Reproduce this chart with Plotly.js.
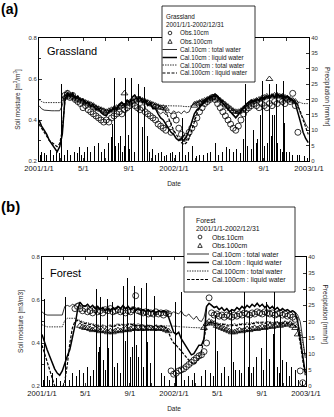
<!DOCTYPE html>
<html>
<head>
<meta charset="utf-8">
<script src="https://cdn.plot.ly/plotly-3.0.1.min.js"></script>
<style>
  html, body { margin: 0; padding: 0; background: #fff; }
  #chart { width: 334px; height: 417px; }
</style>
</head>
<body>
<div id="chart"></div>
<script>
// ---------- time axis: weekly model/obs samples, day offsets from 2001-01-01 ----------
const START = Date.UTC(2001, 0, 1);
const WEEK_DAYS = Array.from({ length: 105 }, (_, i) => i * 7);

const TICK_DATES  = ['2001-01-01','2001-05-01','2001-09-01','2002-01-01','2002-05-01','2002-09-01','2003-01-01'];
const TICK_TEXT   = ['2001/1/1','5/1','9/1','2002/1/1','5/1','9/1','2003/1/1'];
const MINOR_DATES = ['2001-03-01','2001-07-01','2001-11-01','2002-03-01','2002-07-01','2002-11-01'];
const SM_TICKS    = [0.2, 0.4, 0.6, 0.8];
const SM_LABELS   = ['0.2', '0.4', '0.6', '0.8'];

// ---------- (a) Grassland ----------
const gCal10Total = [
  0.47,0.455,0.448,0.446,0.445,0.445,0.445,0.445,0.445,0.47,
  0.53,0.545,0.52,0.535,0.51,0.52,0.50,0.505,0.485,0.49,
  0.47,0.475,0.455,0.46,0.44,0.43,0.425,0.445,0.45,0.465,
  0.455,0.48,0.49,0.475,0.50,0.49,0.515,0.525,0.505,0.515,
  0.49,0.50,0.475,0.485,0.46,0.465,0.44,0.43,0.44,0.425,
  0.44,0.43,0.445,0.435,0.44,0.43,0.445,0.435,0.44,0.47,
  0.49,0.485,0.495,0.49,0.50,0.505,0.515,0.52,0.53,0.52,
  0.50,0.485,0.47,0.455,0.44,0.425,0.415,0.43,0.45,0.465,
  0.48,0.49,0.50,0.495,0.505,0.50,0.515,0.505,0.52,0.51,
  0.525,0.515,0.53,0.52,0.525,0.515,0.52,0.505,0.50,0.49,
  0.47,0.43,0.41,0.38,0.36];
const gCal10Liquid = [
  0.40,0.37,0.35,0.33,0.30,0.28,0.26,0.245,0.27,0.33,
  0.50,0.53,0.515,0.53,0.505,0.515,0.495,0.50,0.48,0.485,
  0.465,0.47,0.45,0.455,0.435,0.425,0.42,0.44,0.445,0.46,
  0.45,0.475,0.485,0.47,0.495,0.485,0.51,0.52,0.50,0.51,
  0.485,0.495,0.47,0.48,0.455,0.455,0.43,0.41,0.40,0.38,
  0.36,0.34,0.33,0.31,0.30,0.31,0.30,0.32,0.35,0.39,
  0.43,0.45,0.46,0.475,0.49,0.50,0.51,0.515,0.525,0.515,
  0.495,0.48,0.465,0.45,0.435,0.42,0.41,0.425,0.445,0.46,
  0.475,0.485,0.495,0.49,0.50,0.495,0.51,0.50,0.515,0.505,
  0.52,0.51,0.525,0.515,0.52,0.51,0.515,0.50,0.495,0.48,
  0.44,0.39,0.34,0.31,0.29];
const gCal100Total = [
  0.50,0.49,0.485,0.485,0.485,0.485,0.485,0.485,0.485,0.49,
  0.52,0.53,0.525,0.52,0.515,0.51,0.505,0.50,0.495,0.49,
  0.485,0.48,0.47,0.465,0.46,0.455,0.45,0.45,0.455,0.46,
  0.465,0.47,0.475,0.48,0.49,0.495,0.50,0.505,0.51,0.51,
  0.505,0.50,0.495,0.49,0.485,0.48,0.475,0.47,0.47,0.47,
  0.47,0.47,0.47,0.47,0.468,0.468,0.466,0.466,0.465,0.47,
  0.48,0.485,0.49,0.495,0.50,0.505,0.51,0.515,0.52,0.515,
  0.505,0.495,0.485,0.47,0.46,0.45,0.445,0.445,0.45,0.46,
  0.47,0.48,0.49,0.495,0.50,0.505,0.51,0.515,0.52,0.52,
  0.525,0.525,0.525,0.52,0.52,0.515,0.51,0.505,0.50,0.495,
  0.49,0.485,0.48,0.48,0.48];
const gCal100Liquid = [
  0.38,0.36,0.34,0.32,0.30,0.29,0.28,0.27,0.285,0.35,
  0.49,0.52,0.52,0.515,0.51,0.505,0.50,0.495,0.49,0.485,
  0.48,0.475,0.465,0.46,0.455,0.45,0.445,0.445,0.45,0.455,
  0.46,0.465,0.47,0.475,0.485,0.49,0.495,0.50,0.505,0.505,
  0.50,0.495,0.49,0.485,0.48,0.475,0.47,0.465,0.46,0.44,
  0.41,0.38,0.35,0.33,0.31,0.29,0.28,0.29,0.31,0.35,
  0.40,0.44,0.47,0.48,0.495,0.50,0.505,0.51,0.515,0.51,
  0.50,0.49,0.48,0.465,0.455,0.445,0.44,0.44,0.445,0.455,
  0.465,0.475,0.485,0.49,0.495,0.50,0.505,0.51,0.515,0.515,
  0.52,0.52,0.52,0.515,0.515,0.51,0.505,0.50,0.495,0.49,
  0.47,0.44,0.40,0.36,0.33];
const gObs10 = [
  null,null,null,null,null,null,null,null,null,null,
  0.52,0.53,0.51,0.52,0.50,0.49,0.48,0.46,0.47,0.45,
  0.44,0.43,0.42,0.41,0.40,0.39,0.40,0.39,0.41,0.42,
  0.43,0.44,0.43,0.45,0.46,0.47,0.48,0.47,0.46,0.45,
  0.46,0.44,0.43,0.42,0.41,0.40,0.38,0.37,0.36,0.35,
  0.38,0.34,0.42,0.40,0.36,0.33,0.31,0.32,0.34,0.36,
  0.38,0.41,0.44,0.46,0.48,0.49,0.50,0.51,0.50,0.48,
  0.46,0.44,0.42,0.40,0.38,0.36,0.35,0.37,0.40,0.43,
  0.45,0.46,0.47,0.48,0.47,0.46,0.48,0.47,0.46,0.48,
  0.47,0.49,0.48,0.50,0.49,0.48,0.50,0.49,0.53,0.47,
  0.34,null,null,null,null];
const gObs100 = [
  null,null,null,null,null,null,null,null,null,null,
  0.51,0.52,0.52,0.51,0.505,0.50,0.495,0.49,0.485,0.48,
  0.475,0.47,0.46,0.455,0.45,0.445,0.44,0.445,0.45,0.455,
  0.46,0.465,0.47,0.53,0.48,0.485,0.49,0.495,0.50,0.50,
  0.495,0.49,0.485,0.48,0.475,0.47,0.465,0.46,0.46,0.455,
  null,null,null,null,null,null,null,null,null,null,
  0.47,0.48,0.485,0.49,0.495,0.50,0.505,0.51,0.51,0.505,
  0.495,0.485,0.475,0.465,0.455,0.445,0.44,0.44,0.445,0.455,
  0.465,0.475,0.485,0.49,0.495,0.50,0.505,0.51,0.515,0.60,
  0.515,0.52,0.52,0.515,0.515,0.51,0.505,0.50,0.495,0.49,
  null,null,null,null,null];
const gRainDays = [3,8,14,20,30,40,48,55,62,70,78,86,95,104,110,115,122,130,140,150,162,170,178,189,195,200,203,208,214,219,225,230,233,241,245,251,258,268,279,284,292,300,308,315,322,330,338,345,355,
  362,370,380,387,395,405,414,425,435,445,455,465,476,485,495,508,516,525,535,545,554,557,565,575,581,587,592,598,603,610,617,622,628,630,638,641,645,652,657,662,665,670,676,685,698,705,719,725];
const gRainVals = [2,3,2.5,2,3.5,2,3,2.5,25,2,3.5,2,3,2.5,4.5,2,3,4.5,3,5,6,3,4,6,7.7,12,27,5,6,8,3,5,27,8.5,4,27,3,25,11,24,8,3,4,2,2.5,3,1.5,2,2.5,
  3,2,3,14,2,3,5,1.5,2,2,2.5,3,6,2,3,4.5,4,3,4,2.5,7,25,5,4,10,6,7,15,26,5,6,25,8,15,15,25,6,4,3,26,12.5,3,3,2,2,2,1.5,1];

// ---------- (b) Forest ----------
const fCal10Total = [
  0.545,0.535,0.53,0.53,0.53,0.53,0.53,0.53,0.53,0.57,
  0.575,0.57,0.58,0.575,0.585,0.59,0.575,0.57,0.58,0.565,
  0.575,0.56,0.57,0.555,0.565,0.55,0.56,0.55,0.565,0.555,
  0.57,0.56,0.575,0.56,0.57,0.555,0.565,0.55,0.56,0.55,
  0.555,0.545,0.555,0.545,0.55,0.54,0.55,0.545,0.55,0.545,
  0.54,0.535,0.545,0.54,0.535,0.55,0.53,0.525,0.535,0.52,
  0.51,0.525,0.505,0.50,0.52,0.57,0.585,0.575,0.565,0.57,
  0.555,0.565,0.55,0.56,0.545,0.555,0.55,0.565,0.555,0.57,
  0.56,0.575,0.565,0.58,0.57,0.585,0.57,0.58,0.565,0.575,
  0.56,0.57,0.555,0.565,0.55,0.56,0.55,0.555,0.545,0.55,
  0.545,0.53,0.50,0.42,0.33];
const fCal10Liquid = [
  0.44,0.40,0.37,0.34,0.31,0.28,0.26,0.25,0.27,0.31,
  0.34,0.37,0.42,0.48,0.55,0.59,0.575,0.57,0.58,0.565,
  0.575,0.56,0.57,0.555,0.565,0.55,0.56,0.55,0.565,0.555,
  0.57,0.56,0.575,0.56,0.57,0.555,0.565,0.55,0.56,0.55,
  0.555,0.545,0.555,0.545,0.55,0.54,0.55,0.545,0.55,0.545,
  0.52,0.48,0.45,0.44,0.45,0.42,0.40,0.38,0.36,0.345,
  0.35,0.37,0.39,0.39,0.42,0.57,0.585,0.575,0.565,0.57,
  0.555,0.565,0.55,0.56,0.545,0.555,0.55,0.565,0.555,0.57,
  0.56,0.575,0.565,0.58,0.57,0.585,0.57,0.58,0.565,0.575,
  0.56,0.57,0.555,0.565,0.55,0.56,0.55,0.555,0.545,0.55,
  0.54,0.50,0.42,0.33,0.26];
const fCal100Total = [
  0.485,0.478,0.475,0.475,0.475,0.475,0.475,0.475,0.475,0.505,
  0.515,0.515,0.515,0.515,0.51,0.505,0.50,0.495,0.495,0.49,
  0.49,0.485,0.485,0.48,0.485,0.48,0.48,0.485,0.48,0.485,
  0.49,0.485,0.49,0.485,0.49,0.49,0.49,0.485,0.49,0.485,
  0.485,0.48,0.485,0.48,0.48,0.485,0.48,0.48,0.48,0.48,
  0.48,0.48,0.478,0.478,0.476,0.476,0.475,0.474,0.473,0.472,
  0.471,0.47,0.47,0.47,0.47,0.49,0.50,0.50,0.495,0.495,
  0.49,0.49,0.49,0.485,0.485,0.485,0.49,0.485,0.49,0.49,
  0.49,0.495,0.49,0.495,0.495,0.50,0.495,0.50,0.495,0.50,
  0.50,0.495,0.50,0.50,0.495,0.495,0.50,0.495,0.495,0.49,
  0.49,0.485,0.46,0.40,0.34];
const fCal100Liquid = [
  0.39,0.35,0.31,0.27,0.23,0.20,0.19,0.18,0.19,0.22,
  0.30,0.40,0.47,0.50,0.505,0.50,0.495,0.49,0.49,0.485,
  0.485,0.48,0.48,0.475,0.48,0.475,0.475,0.48,0.475,0.48,
  0.485,0.48,0.485,0.48,0.485,0.485,0.485,0.48,0.485,0.48,
  0.48,0.475,0.48,0.475,0.475,0.48,0.475,0.475,0.48,0.47,
  0.45,0.42,0.40,0.39,0.375,0.36,0.35,0.335,0.32,0.31,
  0.30,0.31,0.33,0.36,0.42,0.48,0.495,0.495,0.49,0.49,
  0.485,0.485,0.485,0.48,0.48,0.48,0.485,0.48,0.485,0.485,
  0.485,0.49,0.485,0.49,0.49,0.495,0.49,0.495,0.49,0.495,
  0.495,0.49,0.495,0.495,0.49,0.49,0.495,0.49,0.49,0.485,
  0.48,0.46,0.40,0.32,0.25];
const fObs10 = [
  null,null,null,null,null,null,null,null,null,null,
  null,null,null,0.56,0.57,0.56,0.55,0.56,0.545,0.55,
  0.54,0.555,0.545,0.55,0.54,0.555,0.55,0.56,0.545,0.55,
  0.555,0.545,0.55,0.54,0.55,0.545,0.555,0.62,0.55,0.545,
  0.54,0.545,0.535,0.54,0.535,0.545,0.535,0.54,0.53,0.54,
  0.535,0.27,0.255,0.26,0.27,0.275,0.28,0.29,0.30,0.31,
  0.32,0.33,0.34,0.345,0.36,0.40,0.61,0.54,0.53,0.535,
  0.525,0.53,0.52,0.53,0.525,0.52,0.53,0.525,0.535,0.53,
  0.54,0.535,0.53,0.54,0.535,0.545,0.54,0.535,0.545,0.54,
  0.535,0.54,0.53,0.535,0.54,0.53,0.535,0.525,0.53,0.52,
  0.51,null,0.27,0.215,null];
const fObs100 = [
  null,null,null,null,null,null,null,null,null,null,
  null,null,null,null,null,0.48,0.475,0.47,0.47,0.465,
  0.46,0.465,0.46,0.455,0.46,0.455,0.45,0.455,0.45,0.455,
  0.46,0.455,0.46,0.465,0.46,0.465,0.47,0.465,0.47,0.465,
  0.47,0.465,0.47,0.47,0.465,0.47,0.465,0.47,0.465,0.46,
  0.455,null,null,null,null,null,null,null,null,null,
  null,null,null,null,0.47,0.49,0.50,0.495,0.49,0.48,
  0.475,0.47,0.465,0.46,0.455,0.45,0.45,0.455,0.46,0.455,
  0.46,0.465,0.46,0.465,0.47,0.465,0.47,0.475,0.47,0.475,
  0.48,0.475,0.48,0.485,0.48,0.485,0.49,0.485,0.49,0.48,
  0.47,0.44,null,null,null];
const fRainDays = [3,8,15,22,30,40,50,64,75,85,95,105,115,125,135,142,152,157,160,163,170,176,182,185,188,196,200,210,218,224,230,236,245,250,257,262,268,274,280,288,292,300,310,318,330,340,352,
  368,372,387,395,405,415,423,440,451,465,475,480,484,495,505,515,525,530,534,545,552,561,570,575,578,586,594,600,606,612,620,622,628,636,641,644,650,657,660,664,677,685,691,700,710,720];
const fRainVals = [2,27,3,2,4,2.5,1.5,27.5,2,4,3,5,4,6,3,5,30,10.5,12,27.5,8,5,27,11.8,27.5,26,6,7,4,31,14,33.5,9,12,31,12.7,9,30.5,6,32,13.6,7,28,11,4,3,2,
  26,3,29,2,3,2,4,3,5,4,3,22,11,4,6,3,24,7.5,5,5,4,32,6,23,4,6,9,21,11.8,5,26,5,8.5,7,16,32,6,4,22,8,7.5,3,6,5,2,1.5];

// ---------- helpers ----------
const toDate = d => new Date(START + d * 86400000).toISOString().slice(0, 10);
const WEEK_DATES = WEEK_DAYS.map(toDate);
const FONT = 'Liberation Sans, Arial, Helvetica, sans-serif';
const W = 334, H = 417;
const px = x => x / W;
const py = y => 1 - y / H;

function lineTrace(y, xa, ya, width, dash) {
  return { type: 'scatter', mode: 'lines', x: WEEK_DATES, y: y, xaxis: xa, yaxis: ya,
           line: { color: '#000', width: width, dash: dash }, connectgaps: false, hoverinfo: 'skip' };
}
function obsTrace(y, xa, ya, symbol, size) {
  return { type: 'scatter', mode: 'markers', x: WEEK_DATES, y: y, xaxis: xa, yaxis: ya,
           marker: { symbol: symbol, size: size, color: '#000', line: { color: '#000', width: 0.8 } },
           hoverinfo: 'skip' };
}
function rainTrace(days, vals, xa, ya) {
  return { type: 'bar', x: days.map(toDate), y: vals, xaxis: xa, yaxis: ya,
           width: 2.7 * 86400000, marker: { color: '#000', line: { width: 0 } }, hoverinfo: 'skip' };
}

const DOT = '1.5px,1px';
const DASH = '3px,1.5px';

const traces = [
  rainTrace(gRainDays, gRainVals, 'x', 'y2'),
  lineTrace(gCal10Total, 'x', 'y', 0.8, 'solid'),
  lineTrace(gCal10Liquid, 'x', 'y', 1.5, 'solid'),
  lineTrace(gCal100Total, 'x', 'y', 0.8, DOT),
  lineTrace(gCal100Liquid, 'x', 'y', 1.2, DASH),
  obsTrace(gObs100, 'x', 'y', 'triangle-up-open', 6),
  obsTrace(gObs10, 'x', 'y', 'circle-open', 6),

  rainTrace(fRainDays, fRainVals, 'x2', 'y4'),
  lineTrace(fCal10Total, 'x2', 'y3', 0.8, 'solid'),
  lineTrace(fCal10Liquid, 'x2', 'y3', 1.5, 'solid'),
  lineTrace(fCal100Total, 'x2', 'y3', 0.8, DOT),
  lineTrace(fCal100Liquid, 'x2', 'y3', 1.2, DASH),
  obsTrace(fObs100, 'x2', 'y3', 'triangle-up-open', 6),
  obsTrace(fObs10, 'x2', 'y3', 'circle-open', 6)
];

function dateAxis(domain, anchor) {
  return {
    domain: domain, anchor: anchor, type: 'date',
    range: ['2001-01-01', '2003-01-01'],
    tickmode: 'array', tickvals: TICK_DATES, ticktext: TICK_TEXT,
    ticks: 'inside', ticklen: 3, tickwidth: 0.8, tickcolor: '#000',
    minor: { tickvals: MINOR_DATES, ticks: 'inside', ticklen: 3, tickwidth: 0.8, tickcolor: '#000' },
    showline: true, linecolor: '#000', linewidth: 1, mirror: 'ticks',
    showgrid: false, zeroline: false,
    tickfont: { family: FONT, size: 7.6, color: '#111' },
    title: { text: 'Date', font: { family: FONT, size: 6.5, color: '#222' }, standoff: 9 }
  };
}
function smAxis(domain, anchor, title) {
  return {
    domain: domain, anchor: anchor, range: [0.2, 0.8],
    tickmode: 'array', tickvals: SM_TICKS, ticktext: SM_LABELS,
    ticks: 'inside', ticklen: 3, tickwidth: 0.8, tickcolor: '#000',
    minor: { tickvals: [0.3, 0.5, 0.7], ticks: 'inside', ticklen: 2, tickcolor: '#000' },
    showline: true, linecolor: '#000', linewidth: 1, mirror: false,
    showgrid: false, zeroline: false,
    tickfont: { family: FONT, size: 6, color: '#333' },
    title: { text: title, font: { family: FONT, size: 6.5, color: '#222' }, standoff: 7 }
  };
}
function rainAxis(over, anchor) {
  return {
    overlaying: over, anchor: anchor, side: 'right', range: [0, 40],
    tickmode: 'linear', tick0: 0, dtick: 5,
    ticks: 'inside', ticklen: 3, tickwidth: 0.8, tickcolor: '#000',
    showline: true, linecolor: '#000', linewidth: 1,
    showgrid: false, zeroline: false,
    tickfont: { family: FONT, size: 6, color: '#333' }
  };
}

// legend box, line samples and marker glyphs drawn as layout decorations
function legendShapes(box, rows, lx0, lx1, mx, ms) {
  const s = [{ type: 'rect', xref: 'paper', yref: 'paper', layer: 'above',
               x0: px(box[0]), x1: px(box[1]), y0: py(box[3]), y1: py(box[2]),
               fillcolor: '#fff', line: { color: '#000', width: 0.8 } }];
  s.push({ type: 'circle', xref: 'paper', yref: 'paper', layer: 'above',
           x0: px(mx - ms / 2), x1: px(mx + ms / 2), y0: py(rows[0] + ms / 2), y1: py(rows[0] - ms / 2),
           line: { color: '#000', width: 0.8 } });
  const ty = rows[1];
  s.push({ type: 'path', xref: 'paper', yref: 'paper', layer: 'above',
           path: `M ${px(mx - ms / 2 - 0.3)} ${py(ty + ms / 2)} L ${px(mx + ms / 2 + 0.3)} ${py(ty + ms / 2)} L ${px(mx)} ${py(ty - ms / 2 - 0.3)} Z`,
           line: { color: '#000', width: 0.8 } });
  const styles = [[0.8, 'solid'], [1.5, 'solid'], [0.8, DOT], [1.2, DASH]];
  styles.forEach((st, k) => {
    s.push({ type: 'line', xref: 'paper', yref: 'paper', layer: 'above',
             x0: px(lx0), x1: px(lx1), y0: py(rows[k + 2]), y1: py(rows[k + 2]),
             line: { color: '#000', width: st[0], dash: st[1] } });
  });
  return s;
}
function legendText(title, titleX, titleRows, textX, rows, size) {
  const a = [];
  const lines = [title, '2001/1/1-2002/12/31'];
  lines.forEach((t, k) => a.push({ text: t, x: px(titleX), y: py(titleRows[k]), xanchor: 'left', yanchor: 'middle' }));
  const labels = ['Obs.10cm', 'Obs.100cm', 'Cal.10cm : total water', 'Cal.10cm : liquid water',
                  'Cal.100cm : total water', 'Cal.100cm : liquid water'];
  labels.forEach((t, k) => a.push({ text: t, x: px(textX), y: py(rows[k]), xanchor: 'left', yanchor: 'middle' }));
  return a.map(o => Object.assign(o, { xref: 'paper', yref: 'paper', showarrow: false,
    font: { family: FONT, size: size, color: '#111' } }));
}

const rowsA = [33, 41.5, 49.5, 57.5, 65, 73];
const rowsB = [237, 245.5, 254, 262.5, 271, 279.5];

const shapes = [].concat(
  legendShapes([162, 255, 6, 82], rowsA, 162.5, 177, 170, 3.6),
  legendShapes([184, 295, 207, 292], rowsB, 187, 209, 200, 3.8)
);

const annotations = [].concat(
  legendText('Grassland', 163.5, [16.5, 25], 177.5, rowsA, 6.3),
  legendText('Forest', 194, [220, 228.5], 209.5, rowsB, 6.9),
  [
    { text: '<b>(a)</b>', x: px(-1), y: py(-1), xanchor: 'left', yanchor: 'top',
      font: { family: FONT, size: 14, color: '#000' } },
    { text: '<b>(b)</b>', x: px(-1), y: py(196), xanchor: 'left', yanchor: 'top',
      font: { family: FONT, size: 15, color: '#000' } },
    { text: 'Grassland', x: px(45), y: py(51), xanchor: 'left', yanchor: 'middle',
      font: { family: FONT, size: 11, color: '#000' } },
    { text: 'Forest', x: px(48), y: py(272.5), xanchor: 'left', yanchor: 'middle',
      font: { family: FONT, size: 11, color: '#000' } },
    { text: 'Precipitation [mm/hr]', x: px(327), y: py(97), textangle: 90,
      xanchor: 'center', yanchor: 'middle', font: { family: FONT, size: 6.5, color: '#222' } },
    { text: 'Precipitation [mm/hr]', x: px(324.5), y: py(314), textangle: 90,
      xanchor: 'center', yanchor: 'middle', font: { family: FONT, size: 6.5, color: '#222' } }
  ].map(o => Object.assign({ xref: 'paper', yref: 'paper', showarrow: false }, o))
);

const layout = {
  width: W, height: H,
  margin: { l: 0, r: 0, t: 0, b: 0 },
  paper_bgcolor: '#fff', plot_bgcolor: 'rgba(0,0,0,0)',
  showlegend: false, barmode: 'overlay', bargap: 0,
  font: { family: FONT, color: '#000' },
  xaxis:  dateAxis([px(39), px(309)], 'y'),
  yaxis:  smAxis([py(161), py(38)], 'x', 'Soil moisture [m<sup>3</sup>/m<sup>3</sup>]'),
  yaxis2: rainAxis('y', 'x'),
  xaxis2: dateAxis([px(42), px(306)], 'y3'),
  yaxis3: smAxis([py(386), py(257)], 'x2', 'Soil moisture [m3/m3]'),
  yaxis4: rainAxis('y3', 'x2'),
  shapes: shapes,
  annotations: annotations
};

Plotly.newPlot('chart', traces, layout, { staticPlot: true, displayModeBar: false });
</script>
</body>
</html>
